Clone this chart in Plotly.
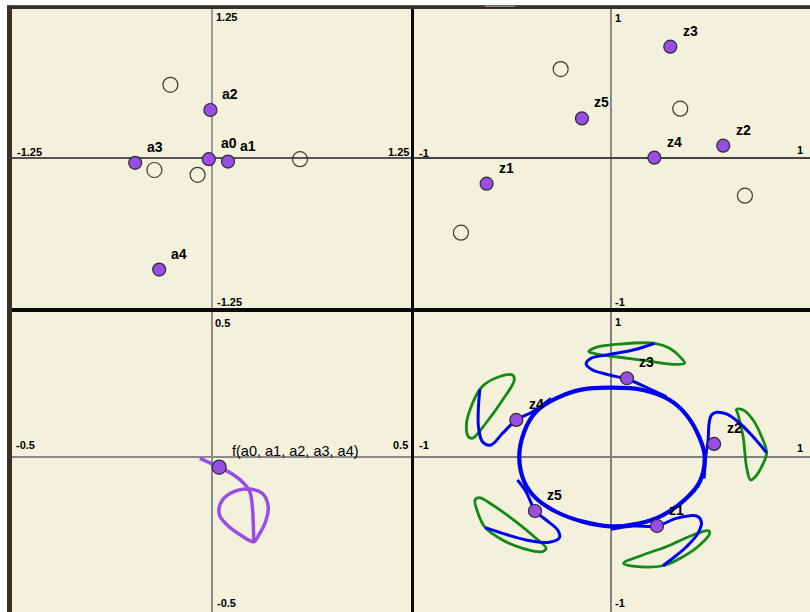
import plotly.graph_objects as go

W, H = 810, 612

# ---------------- data ----------------
# top-left: coefficients a0..a4 and (open) roots
a_names = ["a0", "a1", "a2", "a3", "a4"]
a_x = [-0.02, 0.10, -0.01, -0.48, -0.33]
a_y = [-0.01, -0.03, 0.40, -0.04, -0.93]
a_open_x = [-0.26, -0.36, -0.09, 0.55]
a_open_y = [0.61, -0.10, -0.14, -0.01]
tl_ticks = ["1.25", "-1.25", "-1.25", "1.25"]

# top-right: z1..z5 and open points
z_names = ["z1", "z2", "z3", "z4", "z5"]
z_x = [-0.625, 0.564, 0.298, 0.218, -0.146]
z_y = [-0.171, 0.082, 0.742, 0.002, 0.264]
z_open_x = [-0.253, 0.348, 0.673, -0.754]
z_open_y = [0.593, 0.329, -0.251, -0.498]
tr_ticks = ["1", "-1", "-1", "1"]

# bottom-left: f(a0..a4) and its trace
f_label = "f(a0, a1, a2, a3, a4)"
f_x = [0.018]
f_y = [-0.034]
f_path_x = [-0.0305, -0.008, 0.018, 0.0545, 0.0795, 0.0945, 0.1005, 0.103, 0.1045]
f_path_y = [-0.0043, -0.0177, -0.0343, -0.060, -0.0877, -0.1157, -0.160, -0.2157, -0.2823]
f_loop_x = [0.1045, 0.0713, 0.038, 0.0188, 0.0213, 0.0463, 0.088, 0.1255, 0.1405, 0.1338, 0.117, 0.1045]
f_loop_y = [-0.2823, -0.260, -0.2267, -0.1933, -0.1543, -0.121, -0.1067, -0.121, -0.1657, -0.2157, -0.260, -0.2823]
bl_ticks = ["0.5", "-0.5", "-0.5", "0.5"]

# bottom-right: z1..z5 with their traces
zb_x = [0.231, 0.518, 0.080, -0.476, -0.382]
zb_y = [-0.460, 0.087, 0.525, 0.247, -0.360]
br_ticks = ["1", "-1", "-1", "1"]

ring_x = [-0.003, 0.160, 0.295, 0.379, 0.446, 0.471, 0.446, 0.379, 0.261, 0.144, -0.003,
          -0.142, -0.276, -0.377, -0.436, -0.461, -0.436, -0.377, -0.276, -0.142, -0.003]
ring_y = [0.462, 0.447, 0.380, 0.280, 0.125, 0.002, -0.165, -0.275, -0.387, -0.442, -0.462,
          -0.431, -0.365, -0.275, -0.165, 0.002, 0.169, 0.302, 0.391, 0.451, 0.462]

hook1_x = [0.001, 0.110, 0.231, 0.328, 0.429, 0.454, 0.437, 0.379, 0.320, 0.261]
hook1_y = [-0.482, -0.460, -0.460, -0.409, -0.393, -0.431, -0.509, -0.598, -0.665, -0.725]
loop1_x = [0.261, 0.110, 0.063, 0.160, 0.278, 0.412, 0.488, 0.496, 0.446, 0.362, 0.261]
loop1_y = [-0.725, -0.727, -0.709, -0.653, -0.598, -0.520, -0.491, -0.509, -0.587, -0.665, -0.725]

hook2_x = [0.468, 0.476, 0.488, 0.493, 0.505, 0.530, 0.580, 0.647, 0.714, 0.782]
hook2_y = [-0.142, 0.002, 0.113, 0.225, 0.280, 0.298, 0.287, 0.225, 0.135, 0.029]
loop2_x = [0.782, 0.757, 0.714, 0.664, 0.631, 0.639, 0.664, 0.681, 0.701, 0.723, 0.765, 0.782]
loop2_y = [0.029, 0.135, 0.247, 0.313, 0.318, 0.280, 0.135, -0.065, -0.153, -0.135, -0.042, 0.029]

hook3_x = [0.278, 0.177, 0.082, -0.008, -0.092, -0.125, -0.100, -0.024, 0.110, 0.219]
hook3_y = [0.402, 0.465, 0.518, 0.547, 0.580, 0.620, 0.658, 0.680, 0.713, 0.758]
loop3_x = [0.219, 0.295, 0.354, 0.370, 0.311, 0.177, 0.043, -0.075, -0.112, -0.075, 0.043, 0.219]
loop3_y = [0.758, 0.725, 0.658, 0.625, 0.618, 0.642, 0.665, 0.687, 0.702, 0.731, 0.753, 0.758]

hook4_x = [-0.301, -0.394, -0.475, -0.545, -0.604, -0.646, -0.666, -0.666, -0.659]
hook4_y = [0.391, 0.302, 0.247, 0.158, 0.080, 0.102, 0.202, 0.335, 0.451]
loop4_x = [-0.659, -0.696, -0.726, -0.716, -0.696, -0.629, -0.545, -0.486, -0.495, -0.562, -0.629, -0.659]
loop4_y = [0.451, 0.358, 0.225, 0.135, 0.125, 0.225, 0.380, 0.513, 0.547, 0.535, 0.491, 0.451]

hook5_x = [-0.470, -0.427, -0.380, -0.326, -0.268, -0.259, -0.310, -0.427, -0.545, -0.632]
hook5_y = [-0.153, -0.231, -0.360, -0.420, -0.487, -0.538, -0.569, -0.553, -0.509, -0.471]
loop5_x = [-0.632, -0.671, -0.683, -0.662, -0.595, -0.478, -0.377, -0.326, -0.344, -0.444, -0.545, -0.632]
loop5_y = [-0.471, -0.365, -0.287, -0.271, -0.320, -0.431, -0.542, -0.609, -0.631, -0.609, -0.553, -0.471]

hooks = [(hook1_x, hook1_y), (hook2_x, hook2_y), (hook3_x, hook3_y), (hook4_x, hook4_y), (hook5_x, hook5_y)]
loops = [(loop1_x, loop1_y), (loop2_x, loop2_y), (loop3_x, loop3_y), (loop4_x, loop4_y), (loop5_x, loop5_y)]

# ---------------- styling ----------------
BG = "#f3f1dc"
PURPLE = "#9a4de4"
OUTLINE = "#2b2b2b"
BLUE = "#0000f0"
GREEN = "#138a13"
FRAME = "#3b2d2a"
FONT = "Liberation Sans, Arial, sans-serif"

# panel geometry in pixels: domain (L, R, T, B), zero position, px per unit
panels = [
    dict(L=12, R=411, T=9, B=308, x0=212, y0=158, sx=160, sy=120, hcol="#555555", vcol="#9a9a9a"),
    dict(L=414, R=810, T=9, B=308, x0=611, y0=158, sx=199, sy=150, hcol="#444444", vcol="#8a8a8a"),
    dict(L=12, R=411, T=312, B=612, x0=212, y0=457, sx=400, sy=300, hcol="#8a8a8a", vcol="#8a8a8a"),
    dict(L=414, R=810, T=312, B=612, x0=611, y0=457, sx=199, sy=150, hcol="#808080", vcol="#808080"),
]
# tick-label offsets (top, bottom, left, right): (xshift, yshift)
tick_offsets = [
    [(14.5, -8.5), (17.5, 6), (17, 6), (-13, 6)],
    [(6.5, -9), (9, 6), (10, 5), (-10, 8)],
    [(10.5, -10.5), (14, 9.5), (13, 12.5), (-11, 12.5)],
    [(6.5, -10), (9, 9.5), (10, 12), (-10, 9)],
]
tick_texts = [tl_ticks, tr_ticks, bl_ticks, br_ticks]

fig = go.Figure()
layout = dict(
    width=W, height=H, margin=dict(l=0, r=0, t=0, b=0),
    paper_bgcolor="#0a0a0a", plot_bgcolor=BG, showlegend=False,
    font=dict(family=FONT, color="black"),
)
annotations = []
for i, p in enumerate(panels):
    n = "" if i == 0 else str(i + 1)
    xr = [(p["L"] - p["x0"]) / p["sx"], (p["R"] - p["x0"]) / p["sx"]]
    yr = [(p["y0"] - p["B"]) / p["sy"], (p["y0"] - p["T"]) / p["sy"]]
    common = dict(showgrid=False, showticklabels=False, ticks="", zeroline=True,
                  zerolinewidth=1.5, fixedrange=True, showline=False)
    layout["xaxis" + n] = dict(domain=[p["L"] / W, p["R"] / W], range=xr, anchor="y" + n,
                               zerolinecolor=p["vcol"], **common)
    layout["yaxis" + n] = dict(domain=[1 - p["B"] / H, 1 - p["T"] / H], range=yr, anchor="x" + n,
                               zerolinecolor=p["hcol"], **common)
    xa, ya = "x" + n, "y" + n
    t = tick_texts[i]
    o = tick_offsets[i]
    tf = dict(family=FONT, size=11, color="black", weight="bold")
    annotations += [
        dict(text=t[0], xref=xa, x=0, yref=ya + " domain", y=1, xshift=o[0][0], yshift=o[0][1],
             showarrow=False, xanchor="center", yanchor="middle", font=tf),
        dict(text=t[1], xref=xa, x=0, yref=ya + " domain", y=0, xshift=o[1][0], yshift=o[1][1],
             showarrow=False, xanchor="center", yanchor="middle", font=tf),
        dict(text=t[2], xref=xa + " domain", x=0, yref=ya, y=0, xshift=o[2][0], yshift=o[2][1],
             showarrow=False, xanchor="center", yanchor="middle", font=tf),
        dict(text=t[3], xref=xa + " domain", x=1, yref=ya, y=0, xshift=o[3][0], yshift=o[3][1],
             showarrow=False, xanchor="center", yanchor="middle", font=tf),
    ]

lab_font = dict(family=FONT, size=14, color="black", weight="bold")

def open_pts(x, y, xa, ya):
    fig.add_trace(go.Scatter(x=x, y=y, mode="markers", xaxis=xa, yaxis=ya, hoverinfo="skip",
                             marker=dict(symbol="circle-open", size=15, color="#3a3a3a",
                                         line=dict(width=1.2, color="#3a3a3a"))))

def filled_pts(x, y, xa, ya, size=13):
    fig.add_trace(go.Scatter(x=x, y=y, mode="markers", xaxis=xa, yaxis=ya, hoverinfo="skip",
                             marker=dict(symbol="circle", size=size, color=PURPLE,
                                         line=dict(width=1.2, color=OUTLINE))))

def labels(names, x, y, xa, ya):
    for nm, xx, yy in zip(names, x, y):
        annotations.append(dict(text=nm, x=xx, y=yy, xref=xa, yref=ya, xshift=20, yshift=16,
                                showarrow=False, xanchor="center", yanchor="middle", font=lab_font))

# top-left
open_pts(a_open_x, a_open_y, "x", "y")
filled_pts(a_x, a_y, "x", "y")
labels(a_names, a_x, a_y, "x", "y")

# top-right
open_pts(z_open_x, z_open_y, "x2", "y2")
filled_pts(z_x, z_y, "x2", "y2")
labels(z_names, z_x, z_y, "x2", "y2")

# bottom-left
for xs, ys in [(f_path_x, f_path_y), (f_loop_x, f_loop_y)]:
    fig.add_trace(go.Scatter(x=xs, y=ys, mode="lines", xaxis="x3", yaxis="y3", hoverinfo="skip",
                             line=dict(color=PURPLE, width=3.5, shape="spline", smoothing=1)))
filled_pts(f_x, f_y, "x3", "y3", size=14)
annotations.append(dict(text=f_label, x=f_x[0], y=f_y[0], xref="x3", yref="y3", xshift=11, yshift=16,
                        showarrow=False, xanchor="left", yanchor="middle",
                        font=dict(family=FONT, size=14.5, color="black")))

# bottom-right
for xs, ys in loops:
    fig.add_trace(go.Scatter(x=xs, y=ys, mode="lines", xaxis="x4", yaxis="y4", hoverinfo="skip",
                             line=dict(color=GREEN, width=2.8, shape="spline", smoothing=1)))
fig.add_trace(go.Scatter(x=ring_x, y=ring_y, mode="lines", xaxis="x4", yaxis="y4", hoverinfo="skip",
                         line=dict(color=BLUE, width=4.2, shape="spline", smoothing=1)))
for xs, ys in hooks:
    fig.add_trace(go.Scatter(x=xs, y=ys, mode="lines", xaxis="x4", yaxis="y4", hoverinfo="skip",
                             line=dict(color=BLUE, width=3, shape="spline", smoothing=1)))
filled_pts(zb_x, zb_y, "x4", "y4")
labels(z_names, zb_x, zb_y, "x4", "y4")

# outer frame
shapes = [
    dict(type="rect", xref="paper", yref="paper", x0=0, x1=1, y0=1 - 5.5 / H, y1=1,
         fillcolor="white", line=dict(width=0)),
    dict(type="rect", xref="paper", yref="paper", x0=0, x1=7 / W, y0=0, y1=1,
         fillcolor="white", line=dict(width=0)),
    dict(type="rect", xref="paper", yref="paper", x0=7 / W, x1=1, y0=1 - 9 / H, y1=1 - 5.5 / H,
         fillcolor=FRAME, line=dict(width=0)),
    dict(type="rect", xref="paper", yref="paper", x0=485 / W, x1=515 / W, y0=1 - 7 / H, y1=1 - 5.5 / H,
         fillcolor="#8a8585", line=dict(width=0)),
    dict(type="rect", xref="paper", yref="paper", x0=7 / W, x1=12 / W, y0=0, y1=1 - 5.5 / H,
         fillcolor=FRAME, line=dict(width=0)),
]
layout["shapes"] = shapes
layout["annotations"] = annotations
fig.update_layout(**layout)
fig.write_html(
    "out.html",
    config={"displayModeBar": False, "staticPlot": True},
    post_script="document.documentElement.style.margin='0';document.body.style.margin='0';"
                "document.body.style.overflow='hidden';",
)
